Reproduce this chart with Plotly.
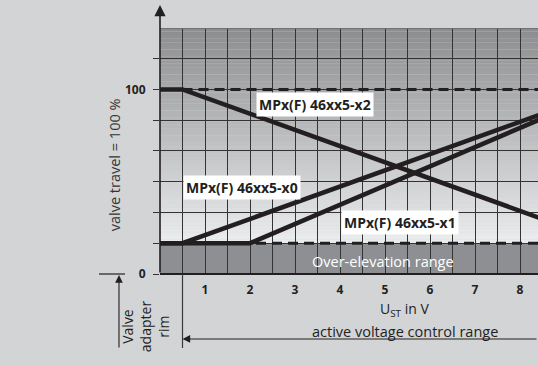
import plotly.graph_objects as go

# ---------------- data ----------------
LOW = 16.7      # lower limit (over-elevation boundary), % travel
FULL = 100.0    # valve travel = 100 %

volts_x2 = [0, 0.5, 10]
travel_x2 = [100, 100, 16.7]
volts_x0 = [0, 0.5, 10]
travel_x0 = [16.7, 16.7, 100]
volts_x1 = [0, 2, 10]
travel_x1 = [16.7, 16.7, 100]

x_grid_vals = [0.5, 1, 1.5, 2, 2.5, 3, 3.5, 4, 4.5, 5, 5.5, 6, 6.5, 7, 7.5, 8]
x_tick_text = ["", "1", "", "2", "", "3", "", "4", "", "5", "", "6", "", "7", "", "8"]
y_grid_vals = [0, 16.67, 33.33, 50, 66.67, 83.33, 100, 116.67]
y_tick_text = ["0", "", "", "", "", "", "100", ""]

label_names = ["MPx(F) 46xx5-x2", "MPx(F) 46xx5-x0", "MPx(F) 46xx5-x1"]
label_x = [3.44, 1.82, 5.33]
label_y = [91.9, 47.0, 28.1]

X_MAX = 8.4
Y_MAX = 133.33

INK = "#231f20"
FONT = "Open Sans"

fig = go.Figure()

# reference dashed lines
fig.add_trace(go.Scatter(x=[0.5, 10], y=[FULL, FULL], mode="lines",
                         line=dict(color=INK, width=3, dash="10px,6px"), hoverinfo="skip"))
fig.add_trace(go.Scatter(x=[0, 10], y=[LOW, LOW], mode="lines",
                         line=dict(color=INK, width=3, dash="10px,6px"), hoverinfo="skip"))

for vx, ty in [(volts_x0, travel_x0), (volts_x1, travel_x1), (volts_x2, travel_x2)]:
    fig.add_trace(go.Scatter(x=vx, y=ty, mode="lines",
                             line=dict(color=INK, width=4.5), hoverinfo="skip"))

shapes = []
# gradient background of the working range
n = 60
top_c, bot_c = 140, 236
for i in range(n):
    y0 = LOW + (Y_MAX - LOW) * i / n
    y1 = LOW + (Y_MAX - LOW) * (i + 1) / n
    t = (i + 0.5) / n
    v = int(round(bot_c + (top_c - bot_c) * t))
    shapes.append(dict(type="rect", xref="x", yref="y", x0=0, x1=X_MAX, y0=y0, y1=y1 + 0.05,
                       fillcolor=f"rgb({v},{v+1},{v+3})", line=dict(width=0), layer="below"))
# over-elevation band
shapes.append(dict(type="rect", xref="x", yref="y", x0=0, x1=X_MAX, y0=0, y1=LOW,
                   fillcolor="#8e8f93", line=dict(width=0), layer="below"))
# top border
shapes.append(dict(type="line", xref="x", yref="y", x0=0, x1=X_MAX, y0=Y_MAX, y1=Y_MAX,
                   line=dict(color="#707174", width=2)))
# valve adapter rim line (0.5 V) extended below the axis
shapes.append(dict(type="line", xref="x", yref="paper", x0=0.5, x1=0.5, y0=0, y1=-0.3008,
                   line=dict(color="#3a3a3a", width=1.2)))
# small horizontal mark at 0 left of the axis
shapes.append(dict(type="line", xref="paper", yref="paper", x0=-0.1614, x1=-0.0926, y0=0, y1=0,
                   line=dict(color=INK, width=1.2)))

annotations = []
# y axis arrow
annotations.append(dict(x=0, y=1.0935, xref="x", yref="paper", text="", showarrow=True,
                        ax=0, ay=269, arrowhead=2, arrowsize=1.4, arrowwidth=1.6,
                        arrowcolor=INK))
# valve adapter rim arrow (vertical, pointing up to 0)
annotations.append(dict(x=-0.1085, y=-0.004, xref="paper", yref="paper", text="", showarrow=True,
                        ax=0, ay=74, arrowhead=2, arrowsize=1.4, arrowwidth=1.1,
                        arrowcolor=INK))
# active voltage range arrow
annotations.append(dict(x=0.5, y=-0.264, xref="x", yref="paper", text="", showarrow=True,
                        ax=360, ay=0, arrowhead=2, arrowsize=1.4, arrowwidth=1.1,
                        arrowcolor=INK))

for name, lx, ly in zip(label_names, label_x, label_y):
    annotations.append(dict(x=lx, y=ly, xref="x", yref="y", text=f"<b>{name}</b>",
                            showarrow=False, bgcolor="white", borderpad=2,
                            xanchor="center", yanchor="middle",
                            font=dict(family=FONT, size=14, color=INK)))

annotations.append(dict(x=4.96, y=6.8, xref="x", yref="y", text="Over-elevation range",
                        showarrow=False, xanchor="center", yanchor="middle",
                        font=dict(family=FONT, size=14.5, color="white")))
annotations.append(dict(x=5.44, y=-0.1443, xref="x", yref="paper",
                        text="U<sub style='font-size:70%'>ST</sub> in V",
                        showarrow=False, xanchor="center", yanchor="middle",
                        font=dict(family=FONT, size=14, color=INK)))
annotations.append(dict(x=5.44, y=-0.2338, xref="x", yref="paper",
                        text="active voltage control range",
                        showarrow=False, xanchor="center", yanchor="middle",
                        font=dict(family=FONT, size=14.5, color=INK)))
annotations.append(dict(x=-0.121, y=0.443, xref="paper", yref="paper",
                        text="valve travel = 100 %", textangle=-90,
                        showarrow=False, xanchor="center", yanchor="middle",
                        font=dict(family=FONT, size=14.5, color="#333333")))
annotations.append(dict(x=-0.040, y=-0.2125, xref="paper", yref="paper",
                        text="Valve<br>adapter<br>rim", textangle=-90,
                        showarrow=False, xanchor="center", yanchor="middle",
                        font=dict(family=FONT, size=14, color=INK)))

fig.update_layout(
    width=538, height=365,
    margin=dict(l=160, r=0, t=28, b=91, pad=0),
    paper_bgcolor="#d3d4d6",
    plot_bgcolor="#d3d4d6",
    showlegend=False,
    shapes=shapes,
    annotations=annotations,
    xaxis=dict(range=[0, X_MAX], tickmode="array", tickvals=x_grid_vals, ticktext=x_tick_text,
               showgrid=True, gridcolor="#333333", gridwidth=1.2, zeroline=False,
               showline=False, ticks="", ticklabelstandoff=7,
               tickfont=dict(family=FONT, size=12, color=INK, weight="bold")),
    yaxis=dict(range=[0, Y_MAX], tickmode="array", tickvals=y_grid_vals, ticktext=y_tick_text,
               showgrid=True, gridcolor="#333333", gridwidth=1.2, zeroline=True,
               zerolinecolor=INK, zerolinewidth=1.6, showline=False,
               ticks="outside", ticklen=6, tickcolor="#333333", tickwidth=1.2,
               ticklabelstandoff=5,
               tickfont=dict(family=FONT, size=12, color=INK, weight="bold")),
)

fig.write_html("out.html", config={"displayModeBar": False},
               post_script="document.body.style.margin='0';document.body.style.background='#d3d4d6';")
